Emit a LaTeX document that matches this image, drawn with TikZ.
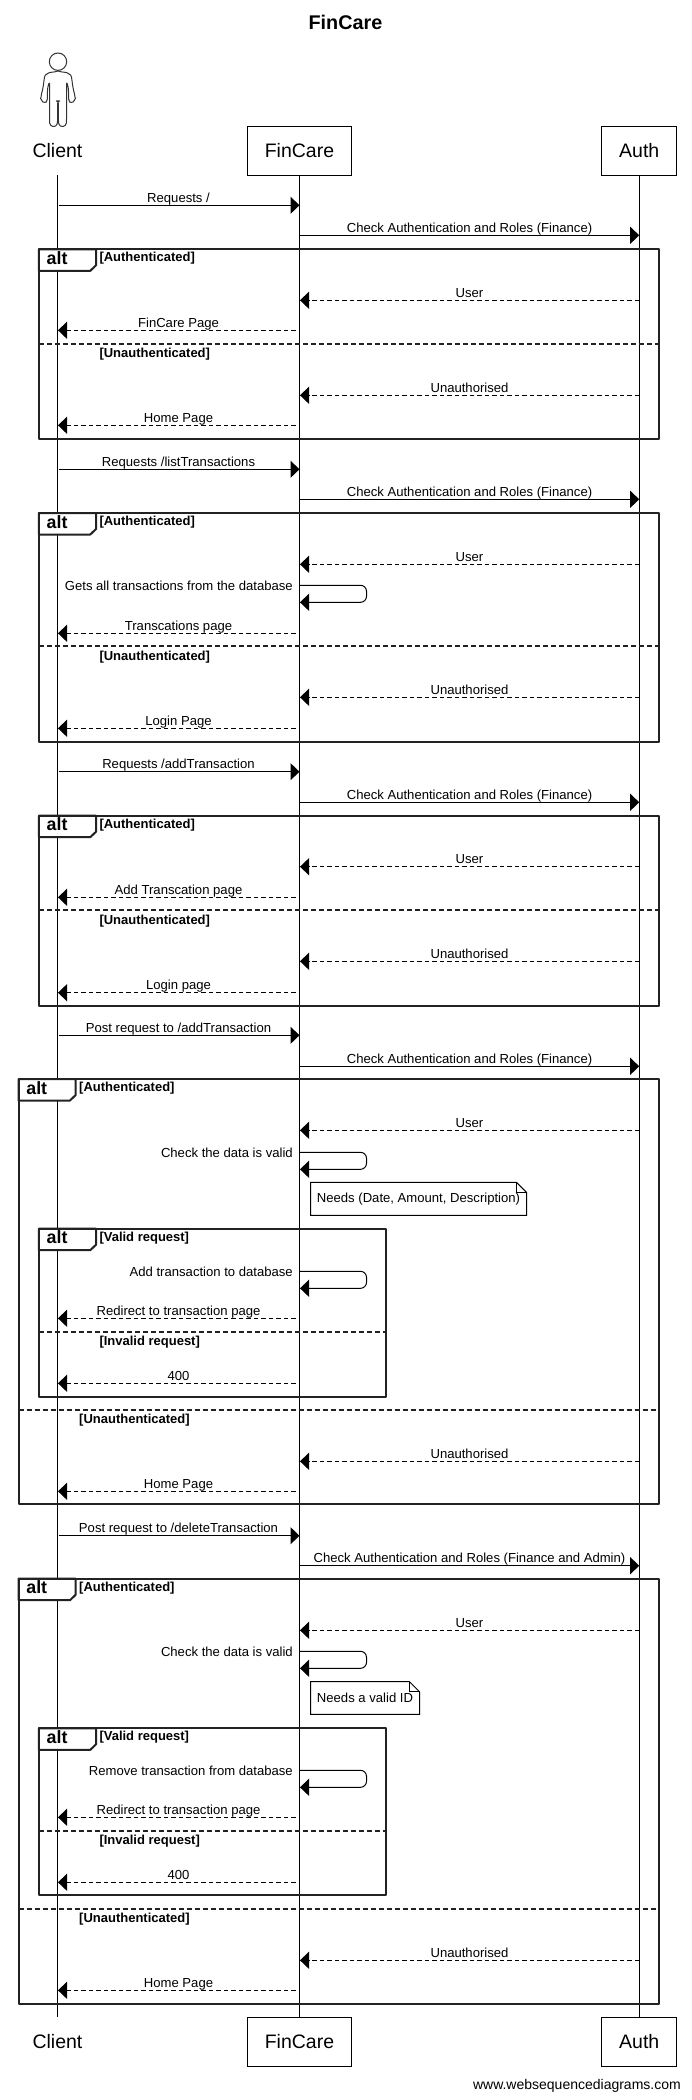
\documentclass[tikz,border=0pt]{standalone}
\usepackage{fontspec}
\setmainfont{Liberation Sans}
\usetikzlibrary{arrows.meta,calc}
\definecolor{framecol}{HTML}{222222}
\tikzset{
  actorbox/.style={draw=black,line width=1pt,fill=white,inner sep=0pt,minimum height=49pt,text height=13pt,text depth=0pt,font=\fontsize{19.5}{22}\selectfont},
  actorname/.style={inner sep=0pt,minimum height=49pt,text height=13pt,text depth=0pt,font=\fontsize{19.5}{22}\selectfont},
  lifeline/.style={line width=1pt,black},
  call/.style={line width=1pt,-{Triangle[length=9pt,width=17pt]}},
  reply/.style={call,dash pattern=on 4.5pt off 3pt},
  msglab/.style={inner sep=0pt,anchor=base,font=\fontsize{13.1}{15}\selectfont},
  selflab/.style={inner sep=0pt,anchor=base east,font=\fontsize{13.1}{15}\selectfont},
  framebox/.style={draw=framecol,line width=2pt,line join=round},
  framesep/.style={draw=framecol,line width=2pt,dash pattern=on 5pt off 3pt},
  framelab/.style={inner sep=0pt,anchor=base west,font=\fontsize{13}{15}\bfseries\selectfont},
  frameop/.style={inner sep=0pt,anchor=base west,font=\fontsize{17.8}{20}\bfseries\selectfont},
  notebox/.style={draw=black,line width=1pt,fill=white,line join=miter},
  notelab/.style={inner sep=0pt,font=\fontsize{13.1}{15}\selectfont},
}
% client -> fincare
\newcommand{\msgCF}[3]{%
  \coordinate (#1a) at (58.5,#2); \coordinate (#1b) at (299.5,#2);
  \draw[call] (#1a) -- (#1b);
  \node[msglab] (#1t) at ($(178.5,#2)+(0,-3)$) {#3};}
% fincare -> auth
\newcommand{\msgFA}[3]{%
  \coordinate (#1a) at (299.5,#2); \coordinate (#1b) at (639.2,#2);
  \draw[call] (#1a) -- (#1b);
  \node[msglab] (#1t) at ($(469.5,#2)+(0,-3)$) {#3};}
% auth -> fincare
\newcommand{\msgAF}[3]{%
  \coordinate (#1a) at (639.2,#2); \coordinate (#1b) at (300,#2);
  \draw[reply] (#1a) -- (#1b);
  \node[msglab] (#1t) at ($(469.5,#2)+(0,-3)$) {#3};}
% fincare -> client
\newcommand{\msgFC}[3]{%
  \coordinate (#1a) at (295.5,#2); \coordinate (#1b) at (58,#2);
  \draw[reply] (#1a) -- (#1b);
  \node[msglab] (#1t) at ($(178.5,#2)+(0,-3)$) {#3};}
% fincare -> fincare
\newcommand{\msgSelf}[3]{%
  \coordinate (#1a) at (299.5,#2); \coordinate (#1b) at (300,#2+17);
  \coordinate (#1c) at (366.5,#2); \coordinate (#1d) at (366.5,#2+17);
  \draw[call,rounded corners=6pt] (#1a) -- (#1c) -- (#1d) -- (#1b);
  \node[selflab] (#1t) at ($(293,#2)+(0,5)$) {#3};}
% name,left,top,right,bottom,sepy,label1,label2,label2 y
\newcommand{\altFrame}[9]{%
  \draw[framebox,fill=white] (#2,#3) -- (#2+57.2,#3) -- (#2+57.2,#3+16) -- (#2+51.5,#3+21.5) -- (#2,#3+21.5) -- cycle;
  \draw[framebox] (#2,#3) rectangle (#4,#5);
  \draw[framesep] (#2,#6) -- (#4,#6);
  \node[frameop] (#1op) at (#2+7.7,#3+15) {alt};
  \node[framelab] (#1one) at (#2+60.5,#3+12.5) {[#7]};
  \node[framelab] (#1two) at (#2+60.5,#9+4.5) {[#8]};}
% name,left,top,right,bottom,label
\newcommand{\noteBox}[6]{%
  \draw[notebox] (#2,#3) -- (#4-10,#3) -- (#4,#3+10) -- (#4,#5) -- (#2,#5) -- cycle;
  \draw[line width=1pt] (#4-10,#3) -- (#4-10,#3+10) -- (#4,#3+10);
  \node[notelab] (#1) at ($(#2,#3)!.5!(#4,#5)$) {#6};}
\begin{document}
\begin{tikzpicture}[x=1pt,y=-1pt]
\useasboundingbox (0,0) rectangle (691,2100);
\fill[white] (0,0) rectangle (691,2100);

\node[inner sep=0pt,anchor=base,font=\fontsize{19.8}{22}\bfseries\selectfont] (title) at (345.5,29.5) {FinCare};

% heads
\node[actorname] (clientTop) at (57.5,150.8) {Client};
\node[actorbox,minimum width=104.4pt] (finTop) at (299.5,150.8) {FinCare};
\node[actorbox,minimum width=75pt] (authTop) at (639.2,150.8) {Auth};
\node[actorname] (clientBot) at (57.5,2041.6) {Client};
\node[actorbox,minimum width=104.4pt] (finBot) at (299.5,2041.6) {FinCare};
\node[actorbox,minimum width=75pt] (authBot) at (639.2,2041.6) {Auth};

% actor figure
\draw[line width=1pt,black!80] (58,61.7) circle (8.7pt);
\draw[line width=1pt,black!80,line join=round,rounded corners=2pt]
  (58,71) .. controls (54,72.5) and (50,72) .. (47,74) .. controls (44,76) and (44,84) .. (42,92)
  .. controls (41,96) and (41,99) .. (42,100) .. controls (43,102.5) and (46,102.5) .. (47.5,100.5)
  .. controls (47.5,96) and (47,88) .. (49.5,82) -- (49.5,121) .. controls (50,127) and (56,128) .. (57.7,122)
  -- (57.7,101) -- (58.3,101) -- (58.3,122) .. controls (60,128) and (66,127) .. (66.5,121)
  -- (66.5,82) .. controls (69,88) and (68.5,96) .. (68.5,100.5) .. controls (70,102.5) and (73,102.5) .. (74,100)
  .. controls (75,99) and (75,96) .. (74,92) .. controls (72,84) and (72,76) .. (69,74)
  .. controls (66,72) and (62,72.5) .. (58,71);

% lifelines
\draw[lifeline] (clientTop.south) -- (clientBot.north);
\draw[lifeline] (finTop.south) -- (finBot.north);
\draw[lifeline] (authTop.south) -- (authBot.north);

% group 1
\altFrame{fa}{38.8}{249.3}{659}{439.3}{344}{Authenticated}{Unauthenticated}{352.7}
\msgCF{a1}{205.3}{Requests /}
\msgFA{a2}{235.3}{Check Authentication and Roles (Finance)}
\msgAF{a3}{300.3}{User}
\msgFC{a4}{330.3}{FinCare Page}
\msgAF{a5}{395.3}{Unauthorised}
\msgFC{a6}{425.3}{Home Page}

% group 2
\altFrame{fb}{38.8}{513}{659}{741.7}{646.3}{Authenticated}{Unauthenticated}{655.7}
\msgCF{b1}{469.3}{Requests /listTransactions}
\msgFA{b2}{499.3}{Check Authentication and Roles (Finance)}
\msgAF{b3}{564.3}{User}
\msgSelf{b4}{585.3}{Gets all transactions from the database}
\msgFC{b5}{633.3}{Transcations page}
\msgAF{b6}{697.3}{Unauthorised}
\msgFC{b7}{728.3}{Login Page}

% group 3
\altFrame{fc}{38.8}{815.7}{659}{1005.7}{910.3}{Authenticated}{Unauthenticated}{919.7}
\msgCF{c1}{771.7}{Requests /addTransaction}
\msgFA{c2}{802.3}{Check Authentication and Roles (Finance)}
\msgAF{c3}{866.7}{User}
\msgFC{c4}{897.3}{Add Transcation page}
\msgAF{c5}{961.3}{Unauthorised}
\msgFC{c6}{992.7}{Login page}

% group 4
\altFrame{fd}{18.5}{1079}{659}{1504.3}{1410}{Authenticated}{Unauthenticated}{1418.7}
\altFrame{fe}{38.8}{1228.7}{386}{1396.7}{1331.7}{Valid request}{Invalid request}{1340.7}
\msgCF{d1}{1035.3}{Post request to /addTransaction}
\msgFA{d2}{1066.3}{Check Authentication and Roles (Finance)}
\msgAF{d3}{1130.3}{User}
\msgSelf{d4}{1152.3}{Check the data is valid}
\noteBox{noteD}{310.5}{1182.3}{526.5}{1215.3}{Needs (Date, Amount, Description)}
\msgSelf{d5}{1271.3}{Add transaction to database}
\msgFC{d6}{1318.3}{Redirect to transaction page}
\msgFC{d7}{1383.3}{400}
\msgAF{d8}{1461.3}{Unauthorised}
\msgFC{d9}{1491.3}{Home Page}

% group 5
\altFrame{ff}{18.5}{1578.7}{659}{2004}{1909}{Authenticated}{Unauthenticated}{1917.7}
\altFrame{fg}{38.8}{1728.3}{386}{1895.3}{1831}{Valid request}{Invalid request}{1839.7}
\msgCF{e1}{1535.7}{Post request to /deleteTransaction}
\msgFA{e2}{1565.7}{Check Authentication and Roles (Finance and Admin)}
\msgAF{e3}{1630.3}{User}
\msgSelf{e4}{1651.3}{Check the data is valid}
\noteBox{noteE}{310.5}{1681.7}{419.5}{1714.3}{Needs a valid ID}
\msgSelf{e5}{1770.3}{Remove transaction from database}
\msgFC{e6}{1817.3}{Redirect to transaction page}
\msgFC{e7}{1882.3}{400}
\msgAF{e8}{1960.3}{Unauthorised}
\msgFC{e9}{1990.3}{Home Page}

\node[inner sep=0pt,anchor=base east,font=\fontsize{14}{16}\selectfont] (credit) at (681,2089.5) {www.websequencediagrams.com};
\end{tikzpicture}
\end{document}
